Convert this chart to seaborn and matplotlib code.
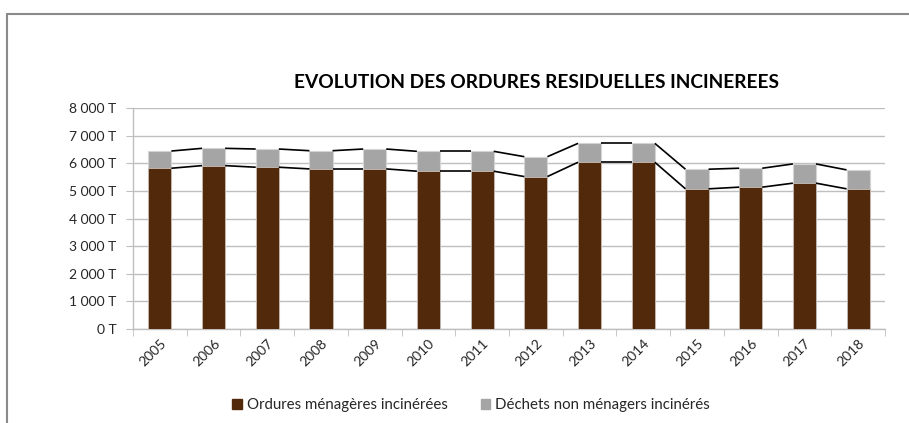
import numpy as np
import pandas as pd
import seaborn as sns
import matplotlib
matplotlib.use("Agg")
import matplotlib.pyplot as plt
from matplotlib.patches import Patch
from matplotlib.lines import Line2D
from matplotlib.ticker import FuncFormatter, FixedLocator

years = ["2005", "2006", "2007", "2008", "2009", "2010", "2011",
         "2012", "2013", "2014", "2015", "2016", "2017", "2018"]
ordures_menageres = [5820, 5914, 5856, 5795, 5795, 5712, 5712,
                     5518, 6036, 6036, 5074, 5135, 5279, 5074]
dechets_non_menagers = [623, 626, 659, 659, 720, 720, 720,
                        720, 684, 684, 710, 685, 696, 686]
title = "EVOLUTION DES ORDURES RESIDUELLES INCINEREES"
legend_labels = ["Ordures ménagères incinérées", "Déchets non ménagers incinérés"]

BROWN = "#52290a"
GRAY = "#a5a5a5"

sns.set_style("white")
plt.rcParams["font.family"] = ["Lato", "DejaVu Sans"]

totaux = [a + b for a, b in zip(ordures_menageres, dechets_non_menagers)]
df = pd.DataFrame({"annee": years, "menageres": ordures_menageres, "total": totaux})

fig = plt.figure(figsize=(9.09, 4.23), dpi=100)
ax = fig.add_axes([133 / 909, 1 - 329 / 423, (885 - 133) / 909, (329 - 108) / 423])

W = 0.43
sns.barplot(data=df, x="annee", y="total", color=GRAY, width=W, ax=ax,
            edgecolor="#d4d4d4", linewidth=0.8, saturation=1, zorder=3)
sns.barplot(data=df, x="annee", y="menageres", color=BROWN, width=W, ax=ax,
            edgecolor="#c8c0b8", linewidth=0.6, saturation=1, zorder=3)

n = len(years)
for series in (ordures_menageres, totaux):
    for i in range(n - 1):
        ax.plot([i + W / 2, i + 1 - W / 2], [series[i], series[i + 1]],
                color="black", lw=1.2, zorder=4, solid_capstyle="butt")

ax.set_xlim(-0.5, n - 0.5)
ax.set_ylim(0, 8000)
ax.set_yticks(np.arange(0, 8001, 1000))
ax.yaxis.set_major_formatter(FuncFormatter(lambda v, p: f"{int(v):,} T".replace(",", " ")))
ax.yaxis.grid(True, color="#bfbfbf", lw=1)
ax.set_axisbelow(True)
ax.set_xlabel("")
ax.set_ylabel("")

for s in ("top", "right"):
    ax.spines[s].set_visible(False)
for s in ("left", "bottom"):
    ax.spines[s].set_color("#bfbfbf")
    ax.spines[s].set_linewidth(1)

ax.tick_params(axis="y", length=5, color="#bfbfbf", labelsize=10, pad=7, direction="out", left=True)
ax.tick_params(axis="x", which="major", length=0, labelsize=10, pad=6, bottom=True)
ax.xaxis.set_minor_locator(FixedLocator(np.arange(-0.5, n, 1.0)))
ax.tick_params(axis="x", which="minor", length=5, color="#bfbfbf", direction="out", bottom=True)
for lab in ax.get_xticklabels():
    lab.set_rotation(45)
    lab.set_ha("right")
    lab.set_rotation_mode("anchor")

fig.text(536 / 909, 1 - 83 / 423, title, ha="center", va="center",
         fontsize=13.8, fontweight="bold", color="black")

handles = [Patch(facecolor=BROWN, edgecolor=BROWN), Patch(facecolor=GRAY, edgecolor=GRAY)]
fig.legend(handles, legend_labels, loc="center", bbox_to_anchor=(471 / 909, 1 - 405 / 423),
           ncol=2, frameon=False, fontsize=10.8, handlelength=0.65, handleheight=0.65,
           handletextpad=0.3, columnspacing=2.2)

fx = 7 / 909
fy = 1 - 14 / 423
fig.add_artist(Line2D([fx, 1], [fy, fy], color="#8a8a8a", lw=1.5, transform=fig.transFigure))
fig.add_artist(Line2D([fx, fx], [0, fy], color="#8a8a8a", lw=1.5, transform=fig.transFigure))

fig.savefig("out.png", dpi=100, facecolor="white")
